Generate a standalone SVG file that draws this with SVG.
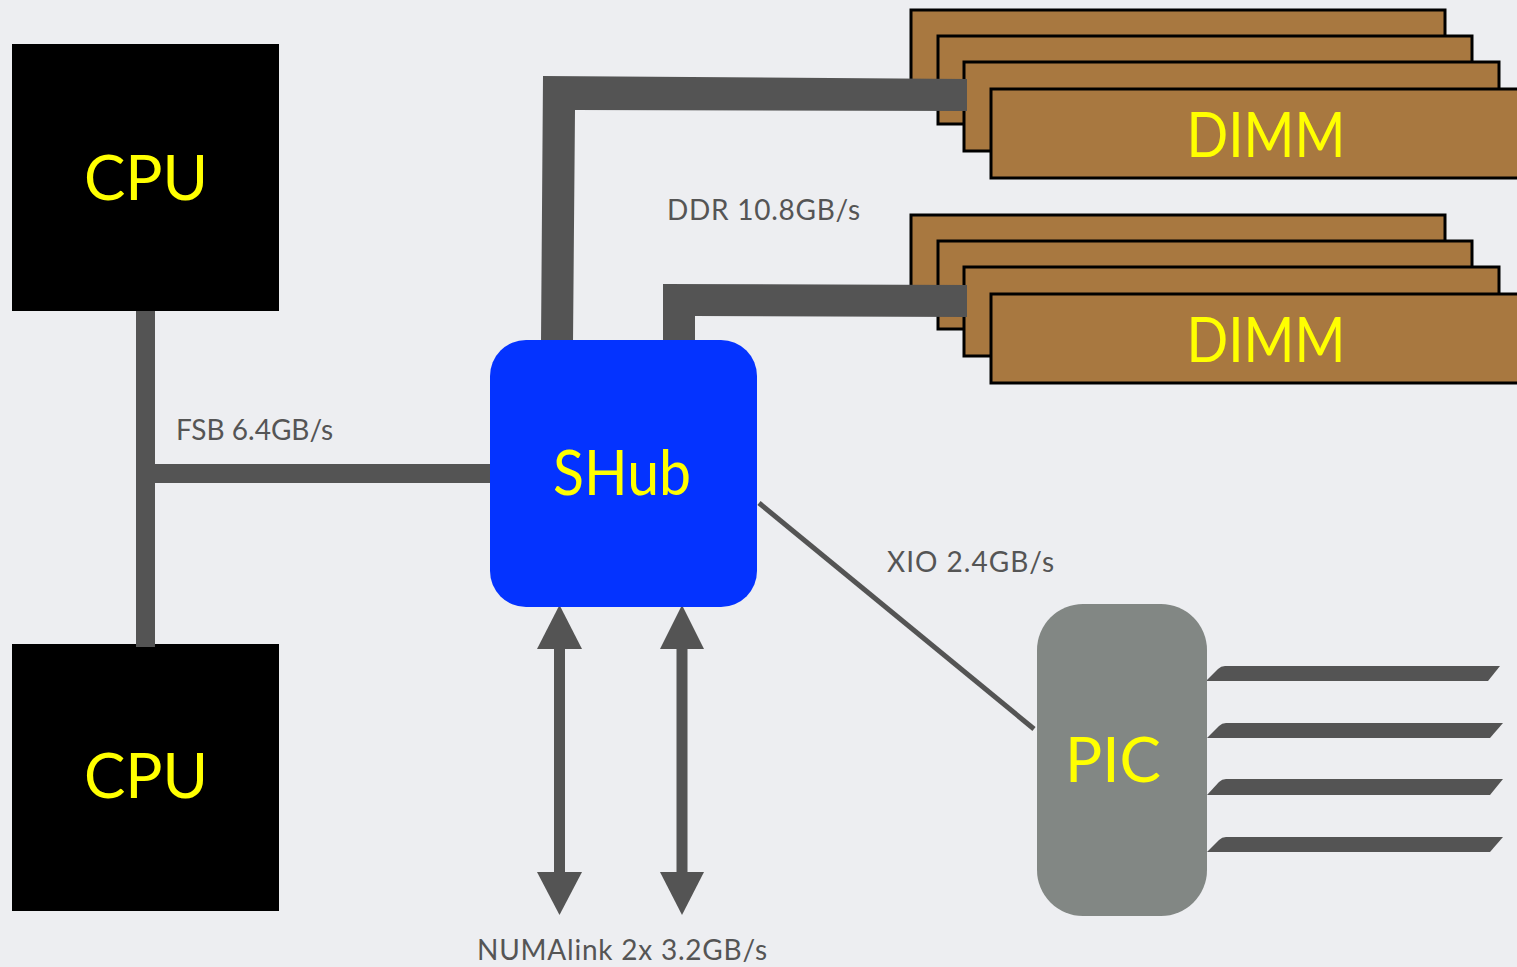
<svg xmlns="http://www.w3.org/2000/svg" width="1517" height="967" viewBox="0 0 1517 967">
  <style>
    .bus { fill: #545454; }
    .label { font-family: Lato, "Open Sans", sans-serif; font-size: 28px; fill: #555555; }
    .name { font-family: Lato, "Open Sans", sans-serif; font-size: 62px; fill: #ffff00; text-anchor: middle; }
    .cpu { fill: #000000; }
    .dimm { fill: #a87840; stroke: #000000; stroke-width: 3; }
  </style>
  <defs>
    <g id="dimm-stack">
      <rect class="dimm" x="911" y="10" width="534" height="88"/>
      <rect class="dimm" x="938" y="36" width="534" height="88"/>
      <rect class="dimm" x="964" y="62" width="535" height="89"/>
      <rect class="dimm" x="991" y="89" width="540" height="89"/>
    </g>
  </defs>

  <rect width="1517" height="967" fill="#edeef1"/>

  <g id="cpu-top">
    <rect class="cpu" x="12" y="44" width="267" height="267"/>
    <text class="name" x="146" y="200">CPU</text>
  </g>
  <g id="cpu-bottom">
    <rect class="cpu" x="12" y="644" width="267" height="267"/>
    <text class="name" x="146" y="798">CPU</text>
  </g>

  <g id="dimm-top">
    <use href="#dimm-stack"/>
    <text class="name" x="1266" y="157" textLength="159" lengthAdjust="spacingAndGlyphs">DIMM</text>
  </g>
  <g id="dimm-bottom">
    <use href="#dimm-stack" y="205"/>
    <text class="name" x="1266" y="362" textLength="159" lengthAdjust="spacingAndGlyphs">DIMM</text>
  </g>

  <!-- buses and links, drawn over the memory stacks -->
  <g id="connectors">
    <!-- front-side bus -->
    <rect class="bus" x="136" y="311" width="19" height="336"/>
    <rect class="bus" x="153" y="464" width="338" height="19"/>
    <!-- DDR channels -->
    <polygon class="bus" points="541,343 543,76 967,79 967,111 575,110 573,343"/>
    <polygon class="bus" points="663,343 663,284 967,285 967,317 695,316 695,343"/>
    <!-- XIO -->
    <line x1="759" y1="503" x2="1034" y2="729" stroke="#545454" stroke-width="5"/>
    <!-- NUMAlink -->
    <rect class="bus" x="554" y="647" width="11" height="227"/>
    <polygon class="bus" points="559.5,605 582,649 537,649"/>
    <polygon class="bus" points="559.5,915 582,872 537,872"/>
    <rect class="bus" x="676.5" y="647" width="11" height="227"/>
    <polygon class="bus" points="682,605 704,649 660,649"/>
    <polygon class="bus" points="682,915 704,872 660,872"/>
    <!-- PCI-X buses -->
    <path class="bus" d="M1206,681 L1218,669 Q1221,666 1225,666 L1500,666 L1488,681 Z"/>
    <path class="bus" d="M1207,738 L1219,726 Q1222,723 1226,723 L1503,723 L1490,738 Z"/>
    <path class="bus" d="M1207,795 L1219,782 Q1222,779 1226,779 L1503,779 L1490,795 Z"/>
    <path class="bus" d="M1207,852 L1219,840 Q1222,837 1226,837 L1503,837 L1490,852 Z"/>
  </g>

  <g id="shub">
    <rect x="490" y="340" width="267" height="267" rx="36" fill="#0433ff"/>
    <text class="name" x="622" y="495" textLength="138" lengthAdjust="spacingAndGlyphs">SHub</text>
  </g>

  <g id="pic">
    <rect x="1037" y="604" width="170" height="312" rx="46" fill="#828784"/>
    <text class="name" x="1113" y="782">PIC</text>
  </g>

  <g id="labels">
    <text class="label" x="176" y="440">FSB 6.4GB/s</text>
    <text class="label" x="667" y="220" textLength="193">DDR 10.8GB/s</text>
    <text class="label" x="887" y="572" textLength="167">XIO 2.4GB/s</text>
    <text class="label" x="477" y="960" textLength="290">NUMAlink 2x 3.2GB/s</text>
  </g>
</svg>
